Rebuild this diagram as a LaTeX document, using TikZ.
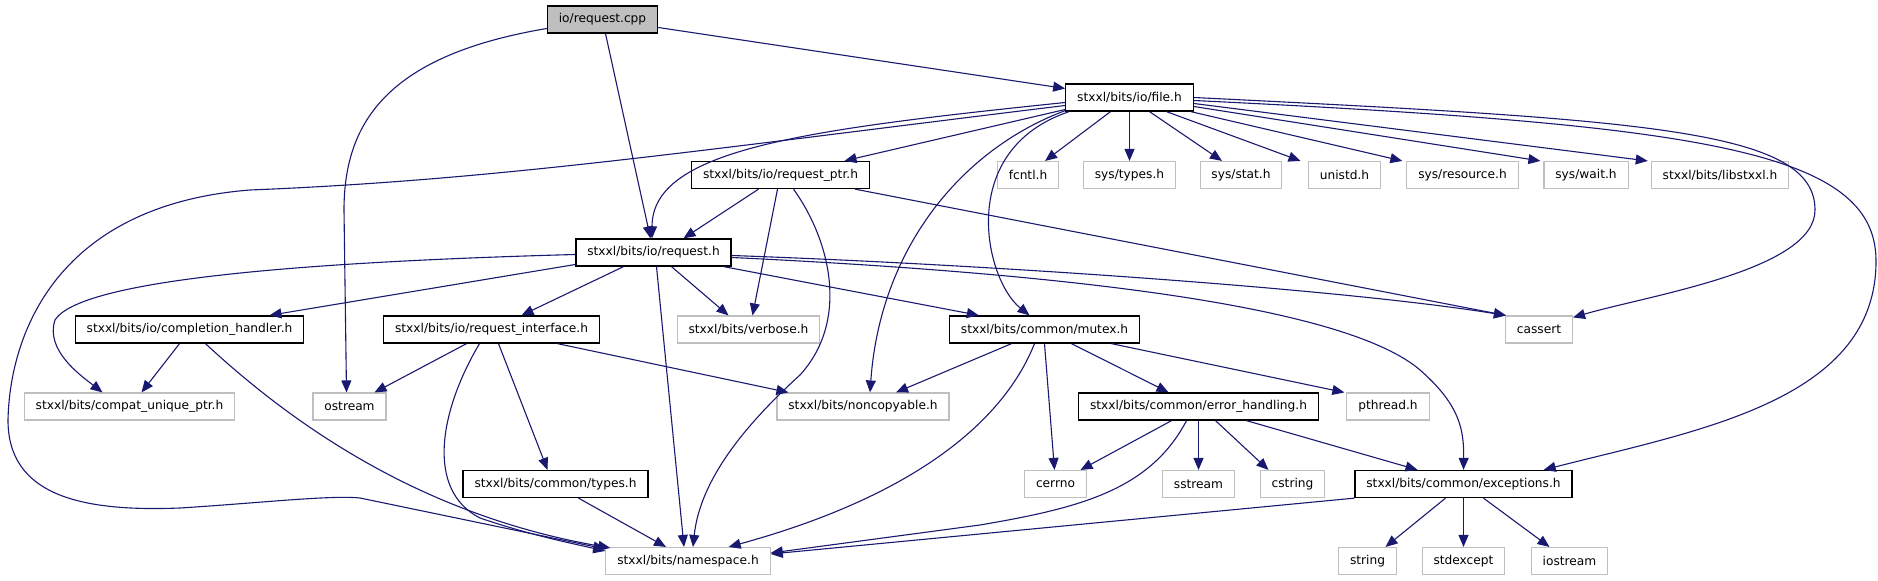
\documentclass[tikz,border=0pt]{standalone}
\usepackage{fontspec}
\setmainfont{DejaVu Sans}
\usepackage{tikz}
\usepackage{xcolor}
\usetikzlibrary{arrows.meta,calc}
\definecolor{dgedge}{RGB}{25,25,112}
\definecolor{dgleafline}{RGB}{191,191,191}
\definecolor{dgrootfill}{RGB}{191,191,191}
\tikzset{
  dgbox/.style={draw=black, line width=0.65pt, fill=white, inner xsep=5.7pt, inner ysep=0pt, minimum height=13.5pt},
  dgleaf/.style={draw=dgleafline, line width=0.55pt, fill=white, inner xsep=5.7pt, inner ysep=0pt, minimum height=13.5pt},
  dgroot/.style={dgbox, fill=dgrootfill},
  dgarr/.style={-{Triangle[length=6pt,width=5pt]}, line width=0.55pt, draw=dgedge}
}

\begin{document}
\begin{tikzpicture}[x=0.5pt, y=-0.5pt, font=\fontsize{6.1}{7}\selectfont]
  \useasboundingbox (0,0) rectangle (1878,581);
  \node[dgroot] (cpp) at (602.5,19.5) {io/request.cpp};
  \node[dgbox] (file) at (1129.5,97.5) {stxxl/bits/io/file.h};
  \node[dgbox] (reqptr) at (780.5,175) {stxxl/bits/io/request\_ptr.h};
  \node[dgleaf] (fcntl) at (1028,175) {fcntl.h};
  \node[dgleaf] (systypes) at (1129.5,175) {sys/types.h};
  \node[dgleaf] (sysstat) at (1241,175) {sys/stat.h};
  \node[dgleaf] (unistd) at (1344.5,175) {unistd.h};
  \node[dgleaf] (sysres) at (1462.5,175) {sys/resource.h};
  \node[dgleaf] (syswait) at (1586,175) {sys/wait.h};
  \node[dgleaf] (libstxxl) at (1720,175) {stxxl/bits/libstxxl.h};
  \node[dgbox] (request) at (653.5,252.5) {stxxl/bits/io/request.h};
  \node[dgbox] (compl) at (189.5,329.5) {stxxl/bits/io/completion\_handler.h};
  \node[dgbox] (iface) at (491.5,329.5) {stxxl/bits/io/request\_interface.h};
  \node[dgleaf] (verbose) at (748.5,329.5) {stxxl/bits/verbose.h};
  \node[dgbox] (mutex) at (1044.5,329.5) {stxxl/bits/common/mutex.h};
  \node[dgleaf] (cassert) at (1539,329.5) {cassert};
  \node[dgleaf] (compat) at (129.5,406.5) {stxxl/bits/compat\_unique\_ptr.h};
  \node[dgleaf] (ostream) at (349.5,406.5) {ostream};
  \node[dgleaf] (noncopy) at (863,406.5) {stxxl/bits/noncopyable.h};
  \node[dgbox] (errh) at (1198.5,406.5) {stxxl/bits/common/error\_handling.h};
  \node[dgleaf] (pthread) at (1388,406.5) {pthread.h};
  \node[dgbox] (types) at (555.5,484) {stxxl/bits/common/types.h};
  \node[dgleaf] (cerrno) at (1055.5,484) {cerrno};
  \node[dgleaf] (sstream) at (1198.5,484) {sstream};
  \node[dgleaf] (cstring) at (1292.5,484) {cstring};
  \node[dgbox] (except) at (1463.5,484) {stxxl/bits/common/exceptions.h};
  \node[dgleaf] (namespace) at (688,561) {stxxl/bits/namespace.h};
  \node[dgleaf] (string) at (1367.5,561) {string};
  \node[dgleaf] (stdexcept) at (1463.5,561) {stdexcept};
  \node[dgleaf] (iostream) at (1569.5,561) {iostream};

  \draw[dgarr] ($(cpp.west)+(0,9)$) .. controls (390,55) and (344,120) .. (344,210) -- ($(ostream.north)+(-3,0)$);
  \draw[dgarr] ($(cpp.south)+(3,0)$) -- ($(request.north)+(-3,0)$);
  \draw[dgarr] ($(cpp.east)+(0,8)$) -- ($(file.west)+(0,-9)$);

  \draw[dgarr] ($(file.west)+(0,12)$) -- ($(reqptr.north)+(64,0)$);
  \draw[dgarr] ($(file.west)+(0,5)$) .. controls (800,130) and (652,150) .. ($(request.north)+(-1.5,0)$);
  \draw[dgarr] ($(file.west)+(0,8)$) .. controls (700,150) and (500,180) .. (250,190) .. controls (60,205) and (10,330) .. (8,420) .. controls (8,495) and (80,512) .. (180,508) .. controls (260,503) and (330,495) .. (360,498) -- ($(namespace.north west)+(0,2)$);
  \draw[dgarr] ($(file.south)+(-19,0)$) -- ($(fcntl.north)+(17,0)$);
  \draw[dgarr] (file.south) -- (systypes.north);
  \draw[dgarr] ($(file.south)+(20,0)$) -- ($(sysstat.north)+(-19,0)$);
  \draw[dgarr] ($(file.south)+(37,0)$) -- ($(unistd.north)+(-44,0)$);
  \draw[dgarr] ($(file.south east)+(-3,0)$) -- ($(sysres.north west)+(-4,0)$);
  \draw[dgarr] ($(file.east)+(0,9)$) -- ($(syswait.north west)+(-3,0)$);
  \draw[dgarr] ($(file.east)+(0,6)$) -- ($(libstxxl.north west)+(-3,0)$);
  \draw[dgarr] (file.east) .. controls (1650,120) and (1815,130) .. (1815,210) .. controls (1815,270) and (1650,295) .. ($(cassert.north east)+(0,2)$);
  \draw[dgarr] ($(file.east)+(0,3)$) .. controls (1700,125) and (1875,150) .. (1876,260) .. controls (1877,400) and (1700,430) .. ($(except.north east)+(-29,0)$);
  \draw[dgarr] ($(file.south west)+(4,0)$) .. controls (955,150) and (985,280) .. ($(mutex.north)+(-15,0)$);
  \draw[dgarr] ($(file.south west)+(0,-1)$) .. controls (960,150) and (880,250) .. ($(noncopy.north)+(7,0)$);

  \draw[dgarr] ($(reqptr.south)+(-22,0)$) -- ($(request.north)+(30,0)$);
  \draw[dgarr] ($(reqptr.south)+(-3,0)$) -- ($(verbose.north)+(4,0)$);
  \draw[dgarr] ($(reqptr.south)+(13,0)$) .. controls (830,240) and (850,320) .. (800,375) .. controls (745,425) and (700,480) .. ($(namespace.north)+(5,0)$);
  \draw[dgarr] ($(reqptr.south east)+(-15,0)$) -- ($(cassert.north west)+(1,0)$);

  \draw[dgarr] ($(request.west)+(0,2)$) .. controls (300,262) and (80,280) .. (55,320) .. controls (45,350) and (80,375) .. ($(compat.north)+(-27,0)$);
  \draw[dgarr] ($(request.west)+(0,12)$) -- ($(compl.north)+(80,0)$);
  \draw[dgarr] ($(request.south)+(-30,0)$) -- ($(iface.north)+(30,0)$);
  \draw[dgarr] ($(request.south)+(18,0)$) -- ($(verbose.north)+(-20,0)$);
  \draw[dgarr] ($(request.south)+(3,0)$) -- ($(namespace.north)+(-4,0)$);
  \draw[dgarr] ($(request.south east)+(-8,0)$) -- ($(mutex.north west)+(30,0)$);
  \draw[dgarr] ($(request.east)+(0,3)$) .. controls (1000,265) and (1350,290) .. ($(cassert.north west)+(1,0)$);
  \draw[dgarr] ($(request.east)+(0,5)$) .. controls (1100,275) and (1350,310) .. (1420,370) .. controls (1460,405) and (1464,430) .. (except.north);

  \draw[dgarr] ($(compl.south)+(-10,0)$) -- ($(compat.north)+(12,0)$);
  \draw[dgarr] ($(compl.south)+(16,0)$) .. controls (320,450) and (450,520) .. ($(namespace.north west)+(5,1)$);

  \draw[dgarr] ($(iface.south)+(-25,0)$) -- ($(ostream.north)+(25,0)$);
  \draw[dgarr] ($(iface.south)+(-12,0)$) .. controls (440,410) and (425,490) .. (480,518) .. controls (530,535) and (570,543) .. ($(namespace.north west)+(0,4)$);
  \draw[dgarr] ($(iface.south)+(7,0)$) -- ($(types.north)+(-8,0)$);
  \draw[dgarr] ($(iface.south)+(66,0)$) -- ($(noncopy.north west)+(12,0)$);

  \draw[dgarr] ($(mutex.south)+(-33,0)$) -- ($(noncopy.north)+(33,0)$);
  \draw[dgarr] ($(mutex.south)+(-10,0)$) .. controls (1000,430) and (900,500) .. ($(namespace.north east)+(-42,0)$);
  \draw[dgarr] (mutex.south) -- ($(cerrno.north)+(-1,0)$);
  \draw[dgarr] ($(mutex.south)+(27,0)$) -- ($(errh.north)+(-30,0)$);
  \draw[dgarr] ($(mutex.south)+(67,0)$) -- ($(pthread.north west)+(-2,0)$);

  \draw[dgarr] ($(errh.south)+(-27,0)$) -- ($(cerrno.north)+(25,0)$);
  \draw[dgarr] ($(errh.south)+(-12,0)$) .. controls (1150,490) and (1080,508) .. (980,525) -- ($(namespace.east)+(0,-8)$);
  \draw[dgarr] (errh.south) -- (sstream.north);
  \draw[dgarr] ($(errh.south)+(17,0)$) -- ($(cstring.north)+(-24,0)$);
  \draw[dgarr] ($(errh.south)+(48,0)$) -- ($(except.north)+(-46,0)$);

  \draw[dgarr] ($(types.south)+(23,0)$) -- ($(namespace.north)+(-22,0)$);

  \draw[dgarr] (except.south west) -- ($(namespace.east)+(0,-7)$);
  \draw[dgarr] ($(except.south)+(-18,0)$) -- ($(string.north)+(18,0)$);
  \draw[dgarr] (except.south) -- (stdexcept.north);
  \draw[dgarr] ($(except.south)+(20,0)$) -- ($(iostream.north)+(-20,0)$);
\end{tikzpicture}
\end{document}
